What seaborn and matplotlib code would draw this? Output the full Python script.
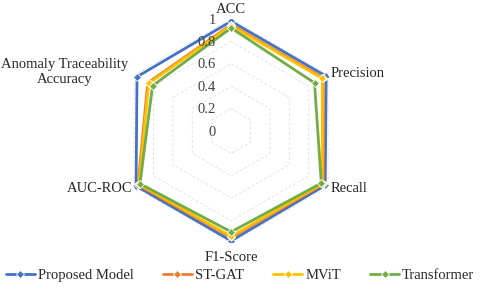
import numpy as np
import pandas as pd
import matplotlib
matplotlib.use("Agg")
import matplotlib.pyplot as plt
import matplotlib.transforms as mtransforms
import seaborn as sns

# Data
categories = ["ACC", "Precision", "Recall", "F1-Score", "AUC-ROC",
              "Anomaly Traceability\nAccuracy"]
proposed = [0.98, 0.98, 0.97, 0.98, 0.98, 0.97]
st_gat = [0.95, 0.95, 0.95, 0.95, 0.96, 0.86]
mvit = [0.94, 0.94, 0.94, 0.94, 0.95, 0.85]
transformer = [0.92, 0.86, 0.93, 0.90, 0.94, 0.81]
models = ["Proposed Model", "ST-GAT", "MViT", "Transformer"]
colors = ["#4472C4", "#ED7D31", "#FFC000", "#70AD47"]
ticks = [0, 0.2, 0.4, 0.6, 0.8, 1]

sns.set_theme(style="white")
plt.rcParams["font.family"] = ["Liberation Serif", "DejaVu Serif"]

n = len(categories)
angles = np.linspace(0, 2 * np.pi, n, endpoint=False)
closed = np.append(angles, angles[0])

# long table, loop closed by repeating the first point
rows = []
for name, vals in zip(models, [proposed, st_gat, mvit, transformer]):
    for a, v in zip(closed, vals + vals[:1]):
        rows.append({"model": name, "theta": a, "value": v})
df = pd.DataFrame(rows)

fig = plt.figure(figsize=(4.8, 2.89), dpi=100)
ax = fig.add_axes([0.248, 0.159, 0.467, 0.775], projection="polar")
ax.set_theta_offset(np.pi / 2)
ax.set_theta_direction(-1)
ax.set_ylim(0, 1)
ax.grid(False)
ax.spines["polar"].set_visible(False)
ax.set_xticks([])
ax.set_yticks([])
ax.patch.set_alpha(0)

# hexagonal dashed gridlines
for r in ticks[1:]:
    ax.plot(closed, [r] * len(closed), color="#e3e3e3", lw=0.7,
            ls=(0, (3, 2)), zorder=0)

sns.lineplot(data=df, x="theta", y="value", hue="model", palette=colors,
             hue_order=models, sort=False, estimator=None, units="model",
             marker="D", markersize=4.5, markeredgecolor="white",
             markeredgewidth=0.6, linewidth=2.0, ax=ax, legend=True)
ax.set_xlabel("")
ax.set_ylabel("")
ax.set_ylim(0, 1)

fs = 10.5
# radial tick labels to the left of the vertical axis
off = mtransforms.offset_copy(ax.transData, fig=fig, x=-15, y=-1, units="dots")
for t in ticks:
    ax.text(0, t, f"{t:g}", transform=off, ha="right", va="center",
            fontsize=fs, color="#404040")

# category labels
lab = dict(fontsize=fs, color="#262626")
ax.text(angles[0], 1.03, categories[0], ha="center", va="bottom", **lab)
ax.text(angles[1], 1.03, categories[1], ha="left", va="center", **lab)
ax.text(angles[2], 1.03, categories[2], ha="left", va="center", **lab)
ax.text(angles[3], 1.07, categories[3], ha="center", va="top", **lab)
ax.text(angles[4], 1.02, categories[4], ha="right", va="center", **lab)
ax.text(angles[5], 1.06, categories[5], ha="right", va="center",
        multialignment="center", **lab)

handles, labels = ax.get_legend_handles_labels()
ax.legend_.remove()
fig.legend(handles, labels, loc="lower center", ncol=4, frameon=False,
           bbox_to_anchor=(0.5, -0.02), fontsize=fs, handlelength=2.0,
           handletextpad=0.2, columnspacing=2.0, labelcolor="#262626")

fig.savefig("out.png", dpi=100)
